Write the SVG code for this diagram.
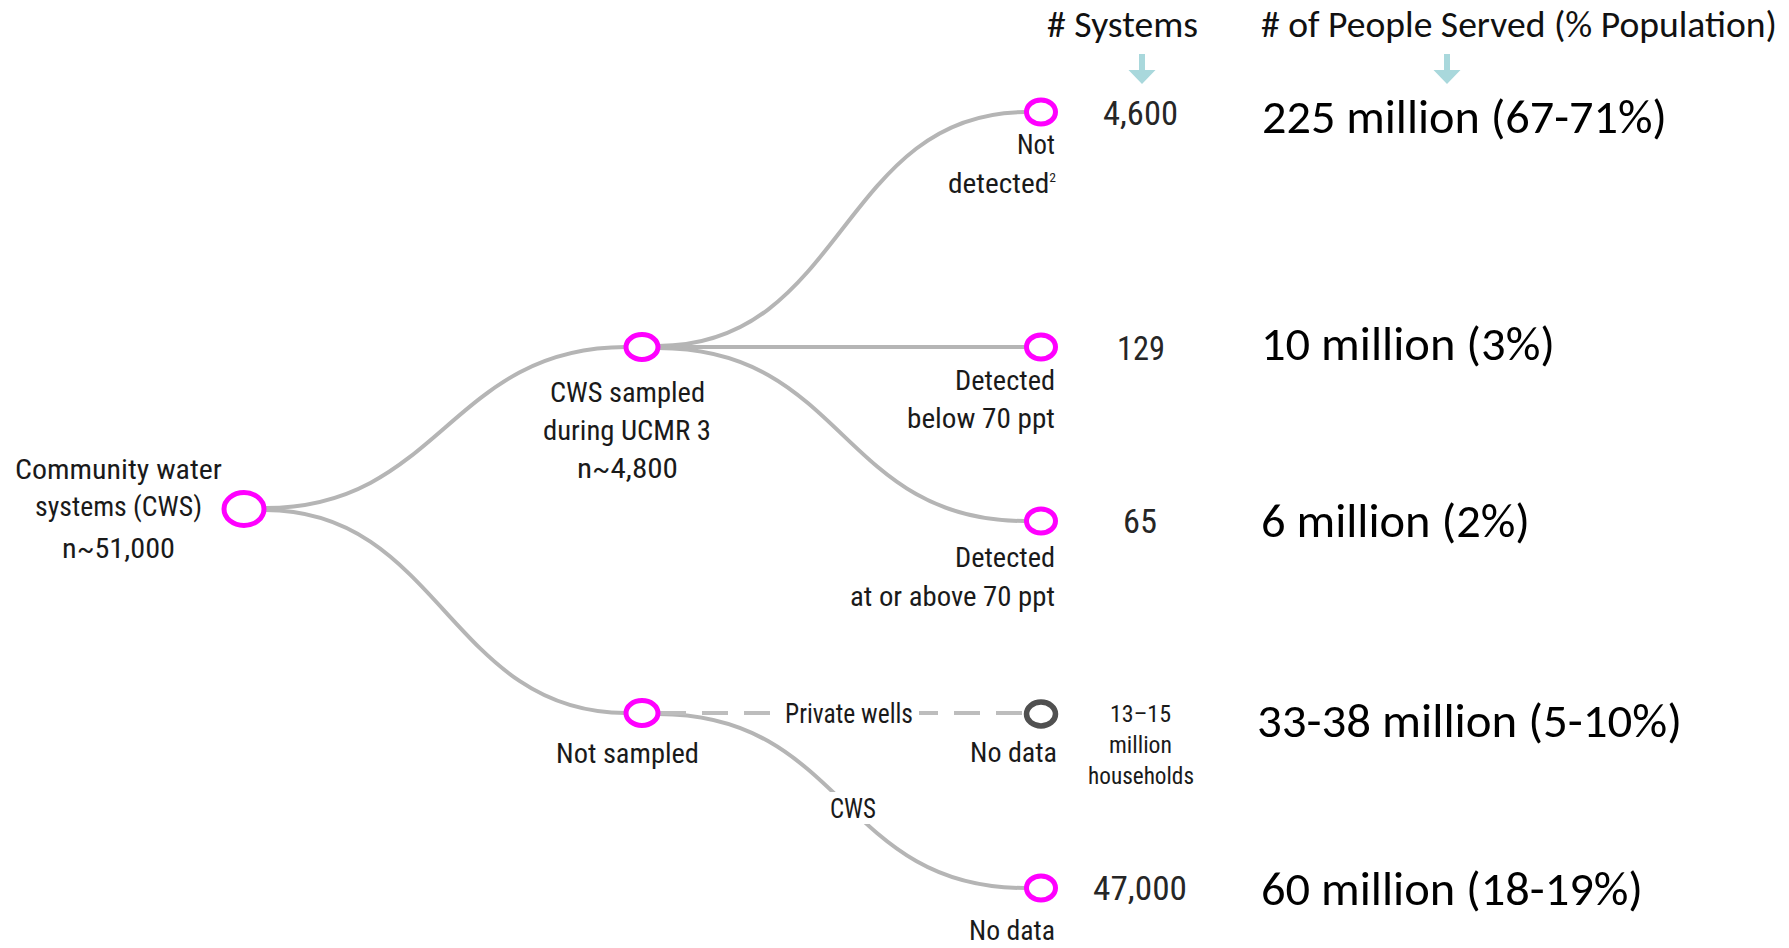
<svg xmlns="http://www.w3.org/2000/svg" xmlns:xlink="http://www.w3.org/1999/xlink" width="1789" height="948" viewBox="0 0 1789 948">
  <style>
    .lbl { font-family: "Roboto Condensed", "Liberation Sans Narrow", Roboto, "Liberation Sans", sans-serif; font-size: 28px; fill: #1a1a1a; }
    .sm { font-size: 23px; }
    .cnt { font-size: 33px; fill: #262626; }
    .big { font-family: Carlito, Lato, "Open Sans", sans-serif; font-size: 48px; fill: #000; }
    .hdr { font-family: Carlito, Lato, "Open Sans", sans-serif; font-size: 36px; fill: #111; }
    .node { fill: #fff; stroke: #ff00ff; stroke-width: 5; }
    .nodata { fill: #fff; stroke: #505050; stroke-width: 5.5; }
    .edge { fill: none; stroke: #b5b5b5; stroke-width: 4; }
    .dash { fill: none; stroke: #bdbdbd; stroke-width: 4; stroke-dasharray: 26 16; }
    .arrow { fill: #a9d8dc; }
  </style>
  <defs>
    <path id="downArrow" d="M-3,0 H3 V16 H13.5 L0,30 L-13.5,16 H-3 Z"/>
  </defs>
  <rect width="1789" height="948" fill="#fff"/>

  <g id="connectors">
    <path class="edge" d="M265 508 C440 508, 450 347, 626 347"/>
    <path class="edge" d="M265 510 C440 510, 450 713, 626 713"/>
    <path class="edge" d="M658 346 C845 346, 840 112, 1026 112"/>
    <path class="edge" d="M658 347 L1025 347"/>
    <path class="edge" d="M658 348 C845 348, 840 521, 1025 521"/>
    <path class="edge" d="M658 714 C845 714, 840 888, 1025 888"/>
    <path class="dash" d="M660 713 L1024 713"/>
    <rect x="783" y="696" width="136" height="34" fill="#fff"/>
    <rect x="826" y="792" width="54" height="32" fill="#fff"/>
    <text class="lbl" x="785" y="723" font-size="26" textLength="128" lengthAdjust="spacingAndGlyphs">Private wells</text>
    <text class="lbl" x="830" y="818" font-size="26" textLength="46" lengthAdjust="spacingAndGlyphs">CWS</text>
  </g>

  <g id="node-cws-root">
    <ellipse class="node" cx="244" cy="509" rx="20" ry="16.5"/>
    <text class="lbl" x="15" y="479" textLength="207" lengthAdjust="spacingAndGlyphs">Community water</text>
    <text class="lbl" x="35" y="516" textLength="167" lengthAdjust="spacingAndGlyphs">systems (CWS)</text>
    <text class="lbl" x="62" y="558" textLength="113" lengthAdjust="spacingAndGlyphs">n~51,000</text>
  </g>

  <g id="node-sampled">
    <ellipse class="node" cx="642" cy="347" rx="16" ry="12.5"/>
    <text class="lbl" x="550" y="402" textLength="155" lengthAdjust="spacingAndGlyphs">CWS sampled</text>
    <text class="lbl" x="543" y="440" textLength="168" lengthAdjust="spacingAndGlyphs">during UCMR 3</text>
    <text class="lbl" x="577" y="478" textLength="101" lengthAdjust="spacingAndGlyphs">n~4,800</text>
  </g>

  <g id="node-not-sampled">
    <ellipse class="node" cx="642" cy="713" rx="16" ry="12.5"/>
    <text class="lbl" x="556" y="763" textLength="143" lengthAdjust="spacingAndGlyphs">Not sampled</text>
  </g>

  <g id="node-not-detected">
    <ellipse class="node" cx="1041" cy="112" rx="14.5" ry="12"/>
    <text class="lbl" x="1017" y="154" textLength="38" lengthAdjust="spacingAndGlyphs">Not</text>
    <text class="lbl" x="948" y="193" textLength="108" lengthAdjust="spacingAndGlyphs">detected<tspan font-size="13" dy="-11">2</tspan></text>
    <text class="lbl cnt" x="1103" y="125" textLength="75" lengthAdjust="spacingAndGlyphs">4,600</text>
    <text class="big" x="1262" y="133" textLength="405" lengthAdjust="spacingAndGlyphs">225 million (67-71%)</text>
  </g>

  <g id="node-detected-below">
    <ellipse class="node" cx="1041" cy="347" rx="14.5" ry="12"/>
    <text class="lbl" x="955" y="390" textLength="100" lengthAdjust="spacingAndGlyphs">Detected</text>
    <text class="lbl" x="907" y="428" textLength="148" lengthAdjust="spacingAndGlyphs">below 70 ppt</text>
    <text class="lbl cnt" x="1117" y="360" textLength="48" lengthAdjust="spacingAndGlyphs">129</text>
    <text class="big" x="1261" y="360" textLength="294" lengthAdjust="spacingAndGlyphs">10 million (3%)</text>
  </g>

  <g id="node-detected-above">
    <ellipse class="node" cx="1041" cy="521" rx="14.5" ry="12"/>
    <text class="lbl" x="955" y="567" textLength="100" lengthAdjust="spacingAndGlyphs">Detected</text>
    <text class="lbl" x="850" y="606" textLength="205" lengthAdjust="spacingAndGlyphs">at or above 70 ppt</text>
    <text class="lbl cnt" x="1123" y="533" textLength="34" lengthAdjust="spacingAndGlyphs">65</text>
    <text class="big" x="1261" y="537" textLength="269" lengthAdjust="spacingAndGlyphs">6 million (2%)</text>
  </g>

  <g id="node-private-wells">
    <ellipse class="nodata" cx="1041" cy="714" rx="14.5" ry="12"/>
    <text class="lbl" x="970" y="762" textLength="87" lengthAdjust="spacingAndGlyphs">No data</text>
    <text class="lbl sm" x="1110" y="722" textLength="61" lengthAdjust="spacingAndGlyphs">13–15</text>
    <text class="lbl sm" x="1109" y="753" textLength="63" lengthAdjust="spacingAndGlyphs">million</text>
    <text class="lbl sm" x="1088" y="784" textLength="106" lengthAdjust="spacingAndGlyphs">households</text>
    <text class="big" x="1257" y="737" textLength="425" lengthAdjust="spacingAndGlyphs">33-38 million (5-10%)</text>
  </g>

  <g id="node-cws-nodata">
    <ellipse class="node" cx="1041" cy="888" rx="14.5" ry="12"/>
    <text class="lbl" x="969" y="940" textLength="86" lengthAdjust="spacingAndGlyphs">No data</text>
    <text class="lbl cnt" x="1093" y="900" textLength="94" lengthAdjust="spacingAndGlyphs">47,000</text>
    <text class="big" x="1261" y="905" textLength="382" lengthAdjust="spacingAndGlyphs">60 million (18-19%)</text>
  </g>

  <g id="headers">
    <text class="hdr" x="1047" y="37" textLength="151" lengthAdjust="spacingAndGlyphs"># Systems</text>
    <text class="hdr" x="1261" y="37" textLength="516" lengthAdjust="spacingAndGlyphs"># of People Served (% Population)</text>
    <use xlink:href="#downArrow" class="arrow" x="1142" y="54"/>
    <use xlink:href="#downArrow" class="arrow" x="1447" y="54"/>
  </g>
</svg>
